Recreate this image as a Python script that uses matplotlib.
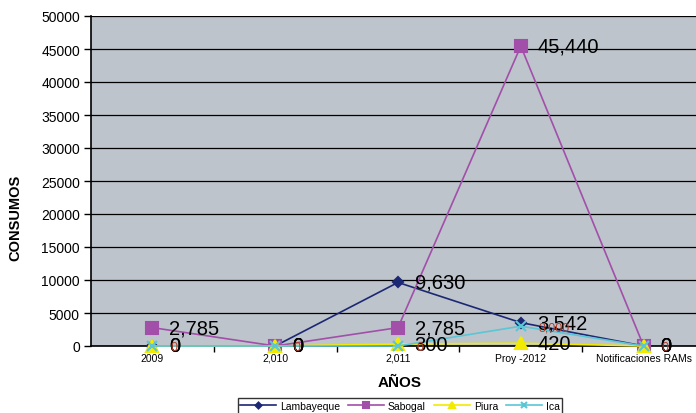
import matplotlib
matplotlib.use("Agg")
import matplotlib.pyplot as plt
import numpy as np
from matplotlib.ticker import FixedLocator, FuncFormatter

plt.rcParams['font.family'] = ['Liberation Sans', 'DejaVu Sans']

categories = ["2009", "2,010", "2,011", "Proy -2012", "Notificaciones RAMs"]
lambayeque = [0, 0, 9630, 3542, 0]
sabogal = [2785, 0, 2785, 45440, 0]
piura = [0, 0, 300, 420, 0]
ica = [0, 0, 0, 3000, 0]
yticks = list(range(0, 50001, 5000))

fig = plt.figure(figsize=(6.96, 4.14), dpi=100)
ax = fig.add_axes([91/696, 67/414, 614/696, 330/414])
ax.set_facecolor("#BDC4CB")
x = np.arange(len(categories))

series = [
    ("Lambayeque", lambayeque, "#1C2873", "D", 5, "big"),
    ("Sabogal", sabogal, "#A24FAA", "s", 8, "big"),
    ("Piura", piura, "#F2EA00", "^", 8, "big"),
    ("Ica", ica, "#5AC6D6", "x", 7, "small"),
]
for name, vals, col, mk, ms, lab in series:
    ax.plot(x, vals, color=col, marker=mk, markersize=ms, linewidth=1.2,
            markeredgecolor=col, markeredgewidth=1.5, label=name, zorder=3, clip_on=False)

for name, vals, col, mk, ms, lab in series:
    for xi, v in zip(x, vals):
        if lab == "big":
            ax.annotate(f"{v:,}", (xi, v), xytext=(12, 0), textcoords="offset points",
                        fontsize=14.5, va="center", ha="left", color="black", zorder=4)
        else:
            ax.annotate(f"{v:,}" if v else "0", (xi, v), xytext=(13, -1), textcoords="offset points",
                        fontsize=9, va="center", ha="left", color="#B0402A", zorder=5)

ax.set_xlim(-0.5, len(categories) - 0.5)
ax.set_ylim(0, 50000)
ax.set_yticks(yticks)
ax.yaxis.set_major_formatter(FuncFormatter(lambda v, p: f"{int(v)}"))
ax.grid(axis="y", color="black", linewidth=0.9, zorder=1)
ax.set_axisbelow(True)

ax.set_xticks(x)
ax.set_xticklabels(categories, fontsize=7.5)
ax.xaxis.set_minor_locator(FixedLocator(np.arange(0.5, len(categories) - 0.5, 1)))
ax.tick_params(axis="x", which="major", length=0, pad=5)
ax.tick_params(axis="x", which="minor", length=4, width=1, direction="out")
ax.tick_params(axis="y", labelsize=10, length=5, width=1, direction="out", pad=3)

for s in ["top", "right"]:
    ax.spines[s].set_visible(False)
ax.spines["left"].set_linewidth(1.2)
ax.spines["bottom"].set_linewidth(1.2)

fig.text(15/696, 1 - 218/414, "CONSUMOS", fontsize=10.5, fontweight="bold", ha="center", va="center",
         rotation=90)
fig.text(400/696, 1 - 383/414, "AÑOS", fontsize=11, fontweight="bold", ha="center", va="center")

leg = ax.legend(loc="center", bbox_to_anchor=(400/696, 1 - 407/414), bbox_transform=fig.transFigure,
                ncol=4, fontsize=7.5, frameon=True, fancybox=False, edgecolor="black",
                handlelength=3.4, columnspacing=0.8, handletextpad=0.4, borderpad=0.25,
                markerscale=0.6)
leg.get_frame().set_linewidth(1.0)

fig.savefig("out.png", dpi=100)
